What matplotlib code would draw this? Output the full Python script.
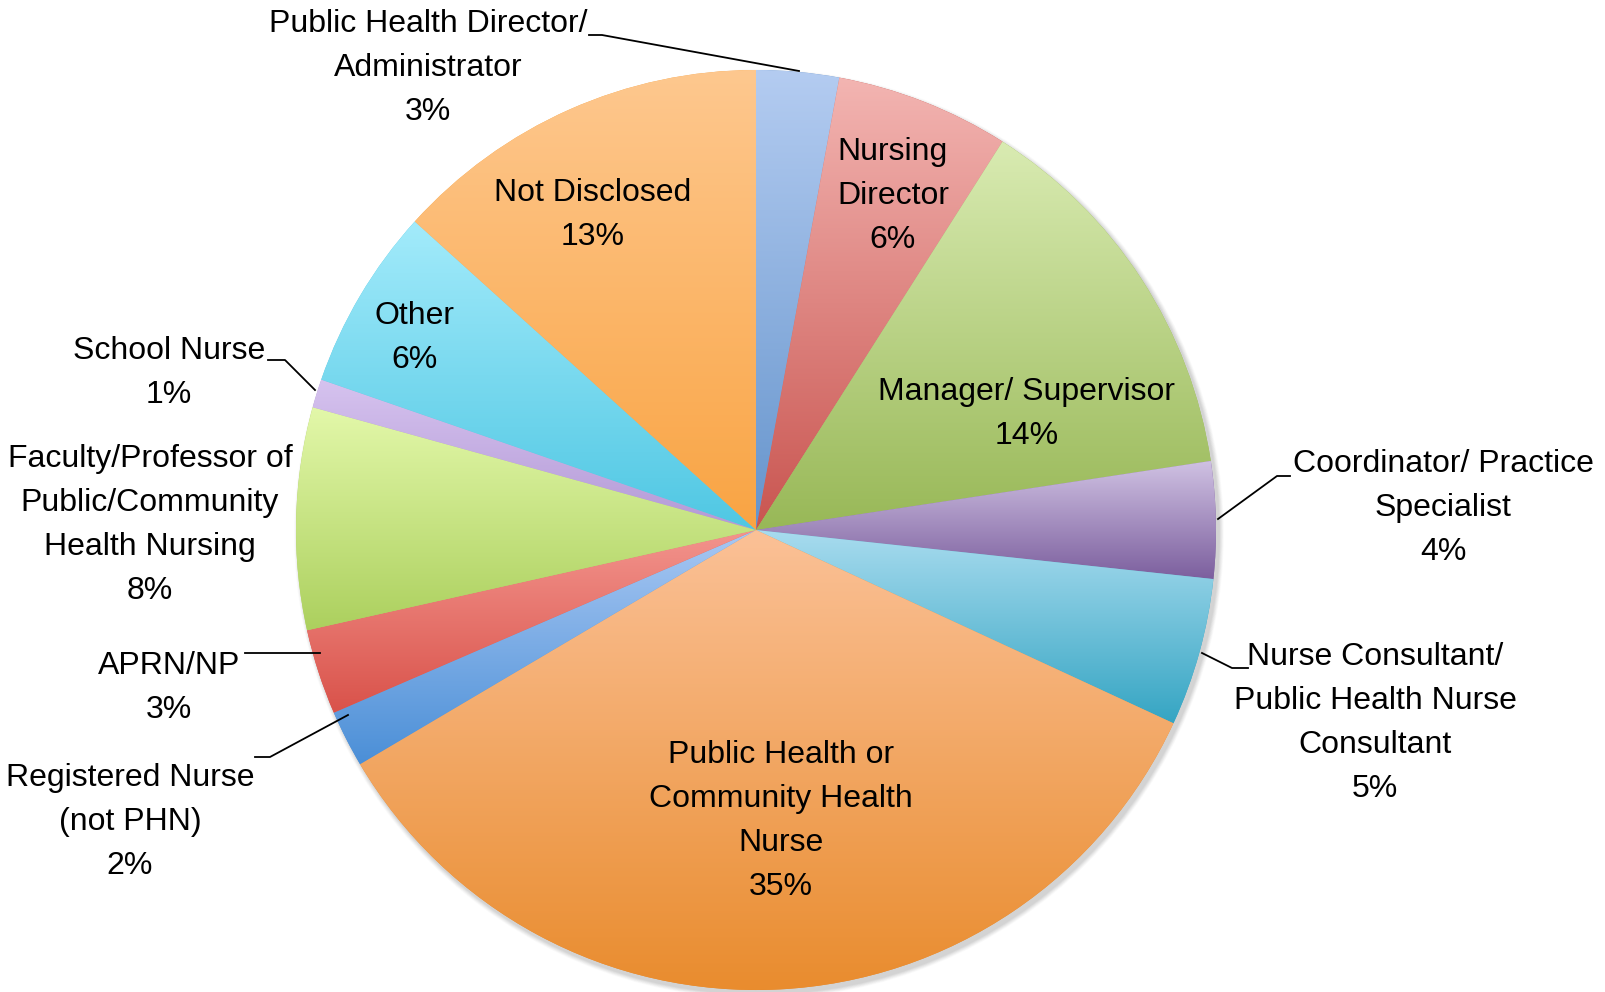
import matplotlib.pyplot as plt
import numpy as np
from matplotlib.colors import LinearSegmentedColormap
from matplotlib.patches import Circle

plt.rcParams['font.family'] = ['Liberation Sans Narrow', 'Liberation Sans', 'DejaVu Sans']

# Data (clockwise from 12 o'clock), shares in percent
categories = [
    'Public Health Director/\nAdministrator',
    'Nursing\nDirector',
    'Manager/ Supervisor',
    'Coordinator/ Practice\nSpecialist',
    'Nurse Consultant/\nPublic Health Nurse\nConsultant',
    'Public Health or\nCommunity Health\nNurse',
    'Registered Nurse\n(not PHN)',
    'APRN/NP',
    'Faculty/Professor of\nPublic/Community\nHealth Nursing',
    'School Nurse',
    'Other',
    'Not Disclosed',
]
shares = [2.9, 6.1, 13.6, 4.1, 5.2, 34.6, 2.0, 3.0, 7.8, 1.0, 6.4, 13.3]

# gradient (top, bottom) per slice
grad_colors = [
    ('#b4ccf1', '#6594cc'),
    ('#f3b5b2', '#c95550'),
    ('#d9ebb2', '#98b857'),
    ('#d0c2e3', '#7c5f9e'),
    ('#a9dcef', '#35a5c3'),
    ('#fbc197', '#e98c2e'),
    ('#a9c8f3', '#4b8fd7'),
    ('#f3948d', '#d9524a'),
    ('#e3f8aa', '#acd05e'),
    ('#d6c3ef', '#b399d6'),
    ('#a3ebfb', '#4fc7e3'),
    ('#fec88f', '#f9a443'),
]

W, H = 1606, 992
cx, cy, r = 756, H - 530, 460

# label centres (image pixels) and leader lines
label_pos = [(428, 68), (893, 196), (1027, 414), (1443, 508), (1375, 723),
             (781, 821), (130, 822), (169, 688), (150, 525), (169, 373),
             (415, 338), (593, 215)]
leaders = [
    [(589, 35), (602, 35), (799, 71)],
    [(1290, 476), (1277, 476), (1218, 519)],
    [(1248, 668), (1232, 668), (1202, 653)],
    [(255, 757), (270, 757), (348, 715)],
    [(245, 653), (320, 653)],
    [(268, 360), (285, 360), (315, 390)],
]

fig = plt.figure(figsize=(W / 100, H / 100), dpi=100)
ax = fig.add_axes([0, 0, 1, 1])

# soft shadow
for k, a in zip(range(6, 0, -1), [0.04, 0.05, 0.06, 0.07, 0.08, 0.09]):
    ax.add_patch(Circle((cx + 3, cy - 4), r + k * 0.8, color='#808080',
                        alpha=a, lw=0, zorder=0))

wedges, _ = ax.pie(shares, startangle=90, counterclock=False,
                   center=(cx, cy), radius=r,
                   colors=[c[1] for c in grad_colors],
                   wedgeprops=dict(linewidth=0))

ramp = np.linspace(0, 1, 256)[:, None]
for w, (c0, c1) in zip(wedges, grad_colors):
    w.set_zorder(1)
    bb = w.get_path().get_extents()
    cmap = LinearSegmentedColormap.from_list('g', [c0, c1])
    im = ax.imshow(ramp, cmap=cmap, extent=(bb.x0, bb.x1, bb.y0, bb.y1),
                   origin='upper', aspect='auto', interpolation='bilinear',
                   zorder=2)
    im.set_clip_path(w)

for name, v, (x, y) in zip(categories, shares, label_pos):
    ax.text(x, H - y, f'{name}\n{v:.0f}%', ha='center', va='center',
            fontsize=23, linespacing=1.62, color='black', zorder=5)

for pts in leaders:
    xs = [p[0] for p in pts]
    ys = [H - p[1] for p in pts]
    ax.plot(xs, ys, color='black', lw=1.3, zorder=4)

ax.set_xlim(0, W)
ax.set_ylim(0, H)
ax.set_aspect('equal')
ax.axis('off')

plt.savefig('out.png', dpi=100)
